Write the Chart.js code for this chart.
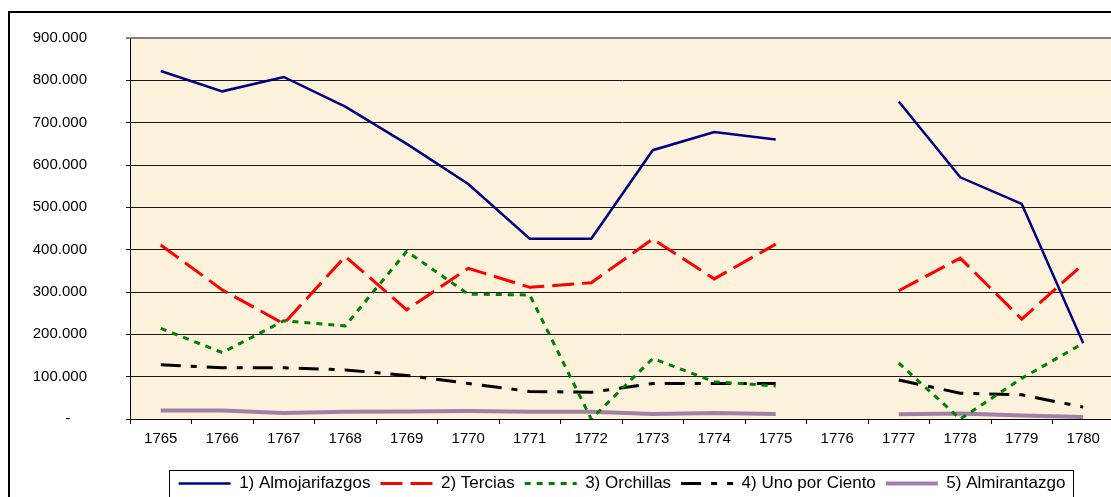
<!DOCTYPE html>
<html>
<head>
<meta charset="utf-8">
<script src="https://cdn.jsdelivr.net/npm/chart.js@4.4.0/dist/chart.umd.min.js"></script>
<style>
  html, body { margin: 0; padding: 0; background: #fff; overflow: hidden; }
  #wrap { width: 1130px; height: 502px; }
</style>
</head>
<body>
<div id="wrap"><canvas id="grafico" width="1130" height="502"></canvas></div>
<script>
// años (1776 sin datos)
var anios = ["1765", "1766", "1767", "1768", "1769", "1770", "1771", "1772",
  "1773", "1774", "1775", "1776", "1777", "1778", "1779", "1780"];

// valores
var almojarifazgos = [822000, 774000, 808000, 738000, 650000, 555000, 426000, 426000,
  635000, 678000, 660000, null, 750000, 571000, 508000, 179000];
var tercias = [411000, 305000, 225000, 384000, 258000, 356000, 311000, 322000,
  425000, 331000, 413000, null, 303000, 380000, 236000, 366000];
var orchillas = [214000, 157000, 232000, 220000, 396000, 295000, 293000, 0,
  143000, 88000, 78000, null, 132000, 0, 96000, 179000];
var unoPorCiento = [128000, 121000, 121000, 116000, 103000, 84000, 65000, 63000,
  84000, 84000, 84000, null, 92000, 61000, 57000, 28000];
var almirantazgo = [20000, 20000, 14000, 17000, 18000, 19000, 17000, 17000,
  12000, 14000, 12000, null, 11000, 13000, 8000, 5000];

var nombres = ["1) Almojarifazgos", "2) Tercias", "3) Orchillas", "4) Uno por Ciento", "5) Almirantazgo"];

// etiquetas del eje Y (0 se muestra como guion)
var etiquetasY = ["-    ", "100.000", "200.000", "300.000", "400.000", "500.000",
  "600.000", "700.000", "800.000", "900.000"];

var fuente = "'Liberation Sans', Arial, sans-serif";

// estilo de cada serie
var series = [
  { data: almojarifazgos, color: "#000080", ancho: 2.5, guion: [] },
  { data: tercias, color: "#ff0000", ancho: 3, guion: [22, 8] },
  { data: orchillas, color: "#008000", ancho: 3, guion: [6, 6] },
  { data: unoPorCiento, color: "#000000", ancho: 3, guion: [20, 10, 6, 10] },
  { data: almirantazgo, color: "#a27fa9", ancho: 4, guion: [] }
];

var datasets = [];
for (var i = 0; i < series.length; i++) {
  datasets.push({
    label: nombres[i],
    data: series[i].data,
    borderColor: series[i].color,
    backgroundColor: series[i].color,
    borderWidth: series[i].ancho,
    borderDash: series[i].guion,
    pointRadius: 0,
    pointHoverRadius: 0,
    tension: 0,
    spanGaps: false,
    fill: false
  });
}

// fondo, area del grafico y marco exterior
var fondoPlugin = {
  id: "fondo",
  beforeDraw: function (chart) {
    var ctx = chart.ctx;
    var a = chart.chartArea;
    ctx.save();
    ctx.fillStyle = "#ffffff";
    ctx.fillRect(0, 0, chart.width, chart.height);
    ctx.fillStyle = "#fcf1da";
    ctx.fillRect(a.left, a.top, a.right - a.left, a.bottom - a.top);
    ctx.strokeStyle = "#000";
    ctx.lineWidth = 2;
    ctx.strokeRect(9, 12, 1300, 700);
    ctx.restore();
  },
  afterDraw: function (chart) {
    // recuadro de la leyenda
    var cajas = chart.legend.legendHitBoxes;
    if (!cajas || !cajas.length) return;
    var izq = cajas[0].left, der = 0, arriba = cajas[0].top;
    for (var i = 0; i < cajas.length; i++) {
      izq = Math.min(izq, cajas[i].left);
      der = Math.max(der, cajas[i].left + cajas[i].width);
    }
    var ctx = chart.ctx;
    ctx.save();
    ctx.strokeStyle = "#000";
    ctx.lineWidth = 1;
    ctx.strokeRect(Math.round(izq - 10) + 0.5, Math.round(arriba - 5) + 0.5, Math.round(der - izq + 17), 60);
    ctx.restore();
  }
};

var ctx = document.getElementById("grafico").getContext("2d");
var grafico = new Chart(ctx, {
  type: "line",
  data: { labels: anios, datasets: datasets },
  plugins: [fondoPlugin],
  options: {
    responsive: false,
    animation: false,
    events: [],
    layout: { padding: { top: 38, right: 16, left: 0, bottom: 0 } },
    plugins: {
      title: { display: false },
      tooltip: { enabled: false },
      legend: {
        position: "bottom",
        fullSize: false,
        labels: {
          color: "#000",
          font: { family: fuente, size: 17 },
          usePointStyle: true,
          pointStyleWidth: 52,
          boxHeight: 17,
          padding: 10,
          generateLabels: function (chart) {
            return chart.data.datasets.map(function (ds, i) {
              return {
                text: ds.label,
                strokeStyle: ds.borderColor,
                fillStyle: ds.borderColor,
                lineWidth: ds.borderWidth,
                lineDash: ds.borderDash,
                pointStyle: "line",
                fontColor: "#000",
                hidden: false,
                datasetIndex: i
              };
            });
          }
        }
      }
    },
    scales: {
      x: {
        offset: true,
        grid: { display: true, drawOnChartArea: false, offset: true, tickLength: 5, color: "#000" },
        border: { color: "#000", width: 1 },
        ticks: { color: "#000", font: { family: fuente, size: 15 }, padding: 6, maxRotation: 0, autoSkip: false },
        afterFit: function (scale) { scale.height = 46; }
      },
      y: {
        min: 0,
        max: 900000,
        grid: {
          tickLength: 4,
          color: function (c) { return c.tick && c.tick.value === 900000 ? "#808080" : "#1a1a1a"; },
          lineWidth: function (c) { return c.tick && c.tick.value === 900000 ? 2 : 1; }
        },
        border: { color: "#000", width: 1 },
        ticks: {
          stepSize: 100000,
          color: "#000",
          padding: 39,
          font: { family: fuente, size: 15 },
          callback: function (value, index) { return etiquetasY[index]; }
        },
        afterFit: function (scale) {
          // ancho fijo del eje y sin el relleno extra arriba/abajo
          scale.width = 130;
          scale.paddingTop = 0;
          scale.paddingBottom = 0;
        }
      }
    }
  }
});
</script>
</body>
</html>
